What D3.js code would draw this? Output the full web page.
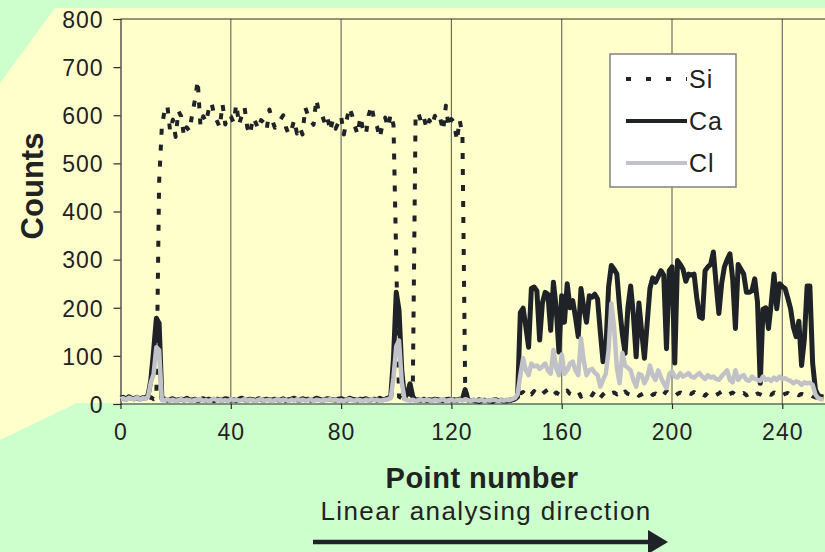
<!DOCTYPE html>
<html>
<head>
<meta charset="utf-8">
<script src="https://cdn.jsdelivr.net/npm/d3@7"></script>
<style>
  body { margin: 0; background: #ccffcc; }
  svg text { font-family: "Liberation Sans", Arial, sans-serif; fill: #222; }
</style>
</head>
<body>
<svg width="825" height="552"></svg>
<script>
// tick labels
let xTicks = [0, 40, 80, 120, 160, 200, 240];
let yTicks = [0, 100, 200, 300, 400, 500, 600, 700, 800];

// counts per point number (index = point number)
let siCounts = [
  12, 10, 14, 11, 9, 13, 12, 10, 15, 11, 12, 14, 10, 12, 460,
  577, 610, 620, 567, 591, 555, 609, 598, 557, 575,
  567, 602, 632, 672, 577, 598, 585, 612, 626, 600,
  588, 575, 623, 581, 600, 598, 585, 623, 581, 600,
  616, 574, 560, 595, 585, 571, 590, 584, 570, 612,
  590, 574, 580, 591, 600, 575, 560, 570, 590, 562,
  575, 560, 616, 600, 590, 580, 633, 605, 602, 585,
  598, 567, 590, 572, 585, 598, 560, 590, 616, 600,
  577, 560, 597, 570, 560, 600, 620, 590, 577, 553,
  580, 595, 575, 602,
  580, 300, 15, 12, 8, 10, 20, 30,
  595, 606, 585, 596, 572, 590, 578, 599, 585, 592, 568, 620, 575, 592, 585, 547, 590, 560,
  35, 10,
  6, 5, 8, 4, 6, 7, 5, 6, 4, 7, 5, 6, 8, 5, 6, 7, 10, 14,
  22, 25, 18, 24, 20, 27, 19, 23, 21, 26,
  30, 22, 18, 24, 20, 17, 25, 28, 21, 19,
  23, 26, 15, 20, 24, 22, 18, 27, 21, 13,
  20, 25, 19, 22, 24, 20, 23, 18, 26, 21,
  19, 24, 22, 17, 20, 23, 21, 25, 19, 22,
  18, 24, 20, 27, 22, 19, 16, 21, 24, 20,
  18, 23, 21, 25, 19, 22, 20, 17, 24, 21,
  23, 19, 22, 26, 20, 18, 21, 24, 19, 22,
  20, 23, 18, 21, 25, 19, 22, 20, 17, 23,
  21, 19, 24, 20, 22, 18, 21, 23, 19, 20,
  22, 18, 21, 19, 17, 20, 16, 14, 12, 11, 10
];

let caCounts = [
  12, 14, 10, 15, 12, 11, 14, 10, 13, 12,
  18, 50, 110, 178, 168, 12,
  10, 8, 9, 11, 7, 9, 10, 8, 12, 9,
  8, 10, 7, 9, 11, 8, 10, 9, 7, 10,
  9, 8, 11, 10, 8, 9, 7, 10, 12, 9,
  8, 10, 9, 7, 11, 9, 8, 10, 9, 8,
  10, 9, 8, 11, 7, 9, 10, 12, 9, 8,
  11, 9, 10, 8, 9, 12, 10, 8, 9, 11,
  10, 9, 8, 10, 11, 9, 8, 12, 10, 9,
  8, 10, 9, 11, 8, 9, 10, 8, 12, 9,
  10, 12,
  15, 95, 232, 195, 70, 12, 22, 42, 15, 8,
  9, 8, 10, 7, 9, 8, 10, 9, 8, 7, 9, 10, 8, 9, 8, 10,
  10, 30, 8,
  7, 8, 6, 9, 7, 8, 7, 6, 8, 9, 7, 8, 6, 7, 8, 9, 10,
  15,
  190, 199, 160, 118, 240, 243, 235, 133, 210, 232,
  228, 153, 253, 200, 108, 225, 170, 250, 200, 215,
  180, 140, 240, 200, 170, 225, 222, 228, 218, 150,
  88, 112, 243, 288, 280, 270, 200, 145, 105, 200,
  245, 185, 98, 210, 150, 95, 168, 240, 262, 253,
  265, 277, 268, 115, 277, 285, 85, 298, 290, 280,
  255, 270, 268, 270, 220, 181, 178, 277, 285, 290,
  316, 250, 188, 250, 285, 300, 312, 260, 157, 290,
  280, 270, 232, 232, 235, 260, 212, 43, 197, 200,
  157, 210, 270, 198, 250, 244, 240, 220, 198, 160,
  140, 172, 80, 135, 245, 245, 85, 30, 18, 15,
  15
];

let clCounts = [
  10, 12, 9, 13, 11, 10, 14, 9, 12, 11,
  15, 45, 62, 118, 112, 8,
  8, 10, 7, 9, 6, 8, 10, 7, 9, 8,
  6, 9, 8, 10, 7, 8, 6, 9, 11, 8,
  9, 7, 8, 6, 10, 8, 9, 7, 8, 10,
  7, 9, 8, 6, 9, 10, 7, 8, 9, 6,
  8, 10, 7, 9, 8, 6, 9, 7, 10, 8,
  9, 7, 8, 10, 6, 9, 8, 7, 9, 8,
  10, 8, 9, 7, 8, 6, 9, 10, 8, 7,
  9, 8, 6, 9, 7, 10, 8, 9, 7, 8,
  9, 10,
  12, 55, 120, 132, 45, 10,
  8, 7, 9, 6, 8, 10, 7, 9, 8, 6,
  9, 7, 8, 10, 6, 8, 9, 7, 8, 9,
  7, 10, 8, 6, 9, 8, 7, 9, 6, 8,
  7, 9, 8, 6, 8, 7, 9, 8, 10, 12,
  20,
  60, 95, 70, 60, 84, 78, 80, 73, 78, 84,
  70, 63, 112, 75, 60, 103, 63, 70, 84, 88,
  70, 60, 136, 90, 60, 70, 73, 65, 60, 36,
  50, 63, 112, 209, 160, 75, 43, 106, 80, 75,
  70, 50, 36, 63, 60, 43, 55, 80, 60, 50,
  70, 55, 43, 33, 62, 68, 57, 55, 64, 57,
  60, 64, 57, 55, 60, 64, 57, 52, 60, 55,
  57, 52, 50, 58, 64, 70, 50, 45, 70, 50,
  57, 60, 50, 48, 57, 52, 50, 48, 57, 50,
  52, 48, 55, 50, 57, 52, 54, 50, 48, 43,
  47, 45, 40, 45, 43, 44, 40, 20, 12, 10,
  10
];

let seriesNames = ['Si', 'Ca', 'Cl'];

var svg = d3.select("svg"),
  width = +svg.attr("width"),
  height = +svg.attr("height");

let plotLeft = 120.5, plotTop = 19, plotBottom = 404;

let x = d3.scaleLinear().domain([0, 256]).range([plotLeft, plotLeft + 256 * 2.7575]);
let y = d3.scaleLinear().domain([0, 800]).range([plotBottom, plotTop]);

let series = [
  { name: seriesNames[0], values: siCounts, color: '#1f2327', width: 4, dash: '6,10' },
  { name: seriesNames[1], values: caCounts, color: '#1f2327', width: 5, dash: null },
  { name: seriesNames[2], values: clCounts, color: '#c0c2c8', width: 4.5, dash: null }
];

// background shapes
svg.append('rect').attr('width', width).attr('height', height).attr('fill', '#ccffcc');
svg.append('polygon')
  .attr('points', [[55, 8], [width, 8], [width, 403], [77, 403], [0, 440], [0, 83]].join(' '))
  .attr('fill', '#ffffcc');

// vertical gridlines
svg.append('g').selectAll('line')
  .data(xTicks.filter(d => d > 0))
  .enter().append('line')
  .attr('x1', d => x(d)).attr('x2', d => x(d))
  .attr('y1', plotTop).attr('y2', plotBottom)
  .attr('stroke', '#6e6e66').attr('stroke-width', 1.2);

// top border of plot
svg.append('line')
  .attr('x1', plotLeft).attr('x2', width)
  .attr('y1', plotTop).attr('y2', plotTop)
  .attr('stroke', '#2a2a2a').attr('stroke-width', 1.2);

// axes
let yAxis = d3.axisLeft(y).tickValues(yTicks).tickSize(7).tickPadding(10);
let xAxis = d3.axisBottom(x).tickValues(xTicks).tickSize(5).tickPadding(10);

let gy = svg.append('g').attr('transform', translate(plotLeft, 0)).call(yAxis);
let gx = svg.append('g').attr('transform', translate(0, plotBottom)).call(xAxis);
gx.select('.domain').attr('d', `M${plotLeft},0H${width}`);

[gx, gy].forEach(g => {
  g.select('.domain').attr('stroke', '#2a2a2a').attr('stroke-width', 1.2);
  g.selectAll('.tick line').attr('stroke', '#2a2a2a').attr('stroke-width', 1.2);
  g.selectAll('.tick text')
    .attr('fill', '#222')
    .style('font-family', '"Liberation Sans", Arial, sans-serif')
    .style('font-size', '23px')
    .style('letter-spacing', '1px');
});
gy.selectAll('.tick text').attr('dy', '0.36em');
gx.selectAll('.tick text').attr('dy', '0.9em');

// series lines
let line = d3.line()
  .x((d, i) => x(i))
  .y(d => y(d));

svg.append('g').selectAll('path')
  .data(series)
  .enter().append('path')
  .attr('d', d => line(d.values))
  .attr('fill', 'none')
  .attr('stroke', d => d.color)
  .attr('stroke-width', d => d.width)
  .attr('stroke-dasharray', d => d.dash)
  .attr('stroke-linejoin', 'round');

// legend
let legend = svg.append('g').attr('transform', translate(610, 54));
legend.append('rect')
  .attr('width', 126).attr('height', 133)
  .attr('fill', '#fff').attr('stroke', '#808080').attr('stroke-width', 1.5);

let items = legend.selectAll('g.item')
  .data(series)
  .enter().append('g')
  .attr('class', 'item')
  .attr('transform', (d, i) => translate(0, 25 + i * 42));
items.append('line')
  .attr('x1', 16).attr('x2', 77)
  .attr('stroke', d => d.color)
  .attr('stroke-width', 3.8)
  .attr('stroke-dasharray', d => d.dash ? '5,15' : null);
items.append('text')
  .attr('x', 79).attr('y', 8.5)
  .style('font-size', '25px')
  .style('letter-spacing', '1px')
  .text(d => d.name);

// axis titles
svg.append('text')
  .attr('transform', 'translate(43,186) rotate(-90)')
  .attr('text-anchor', 'middle')
  .style('font-size', '31px').style('font-weight', 'bold')
  .text('Counts');

svg.append('text')
  .attr('x', 482).attr('y', 488)
  .attr('text-anchor', 'middle')
  .style('font-size', '29px').style('font-weight', 'bold')
  .style('letter-spacing', '0.5px')
  .text('Point number');

svg.append('text')
  .attr('x', 486).attr('y', 520)
  .attr('text-anchor', 'middle')
  .style('font-size', '26px')
  .style('letter-spacing', '1.4px')
  .text('Linear analysing direction');

// direction arrow
svg.append('line')
  .attr('x1', 313).attr('x2', 652)
  .attr('y1', 542).attr('y2', 542)
  .attr('stroke', '#1f2327').attr('stroke-width', 4.5);
svg.append('path')
  .attr('d', 'M648,530L668,542L648,554Z')
  .attr('fill', '#1f2327');

function translate(x, y) {
  return `translate(${x},${y})`;
}
</script>
</body>
</html>
